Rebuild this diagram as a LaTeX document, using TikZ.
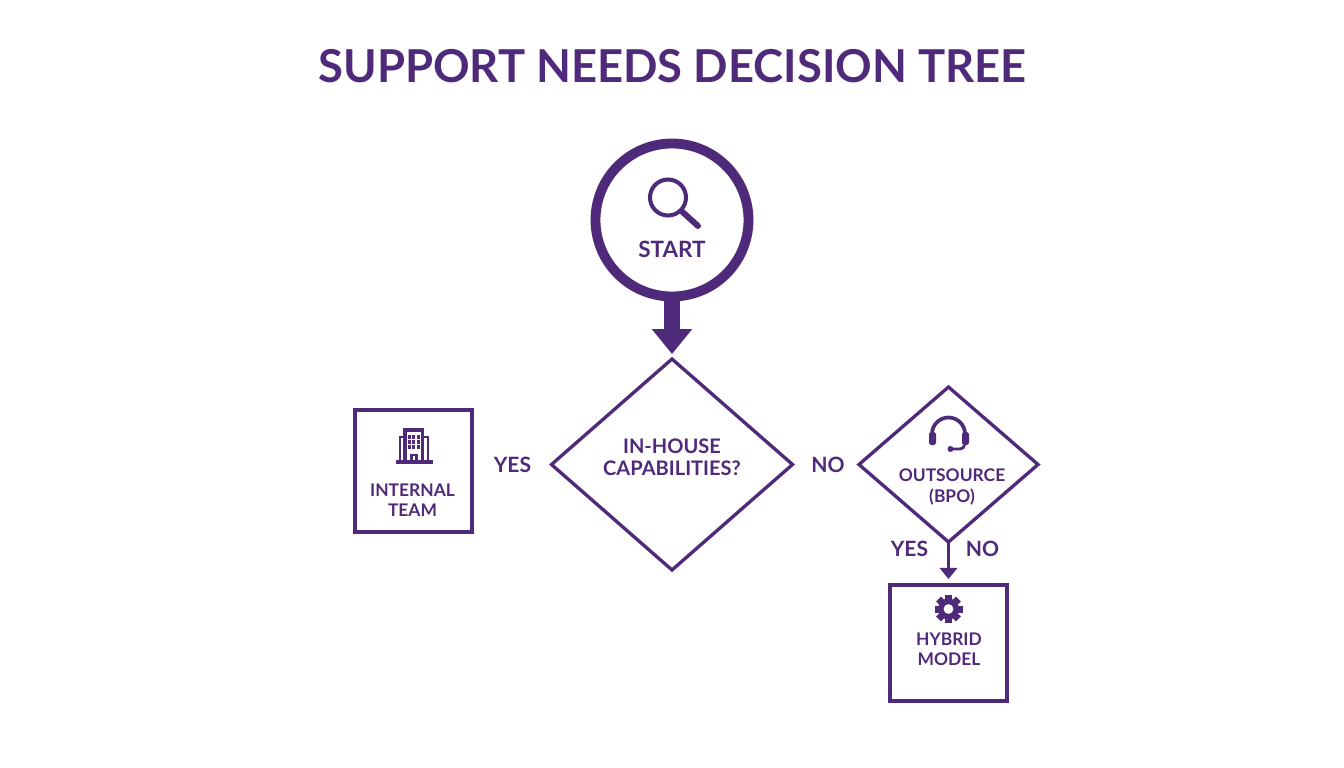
\documentclass[tikz,border=0pt]{standalone}
\usepackage{xcolor}
\usepackage{fontspec}
\setmainfont{Lato}
\usetikzlibrary{arrows.meta,shapes.geometric}
\definecolor{supportpurple}{HTML}{4F2A7A}
\tikzset{
	lbl/.style={text=supportpurple,font=\bfseries\fontsize{6}{6.2}\selectfont,align=center,inner sep=0pt},
	smalllbl/.style={lbl,font=\bfseries\fontsize{4.95}{5.6}\selectfont},
	decision/.style={draw=supportpurple,shape=diamond,line width=0.95pt,inner sep=0pt,outer sep=0pt},
	result/.style={draw=supportpurple,line width=1.05pt,inner sep=0pt,outer sep=0pt},
	icon/.style={draw=supportpurple,line width=0.9pt},
}
\begin{document}
\begin{tikzpicture}
		\useasboundingbox(0,0)rectangle(13.44,-7.68);
		\node[text=supportpurple,font=\bfseries\fontsize{12.9}{13}\selectfont,inner sep=0pt](title)at(6.725,-0.66){SUPPORT NEEDS DECISION TREE};

		\node[draw=supportpurple,circle,line width=2.8pt,minimum size=1.53cm,inner sep=0pt,outer sep=0pt](start)at(6.72,-2.2){};
		\node[decision,minimum width=2.41cm,minimum height=2.11cm](inhouse)at(6.72,-4.645){};
		\node[decision,minimum width=1.79cm,minimum height=1.55cm](outsource)at(9.485,-4.645){};
		\node[result,minimum width=1.17cm,minimum height=1.22cm](internal)at(4.135,-4.71){};
		\node[result,minimum width=1.17cm,minimum height=1.16cm](hybrid)at(9.485,-6.43){};

		\node[lbl,font=\bfseries\fontsize{6.4}{6.4}\selectfont](startlbl)at(6.72,-2.49){START};
		\node[lbl,font=\bfseries\fontsize{5.7}{6.2}\selectfont](inhouselbl)at(6.72,-4.57){IN-HOUSE\\CAPABILITIES?};
		\node[smalllbl](internallbl)at(4.125,-5){INTERNAL\\TEAM};
		\node[smalllbl,font=\bfseries\fontsize{4.95}{6}\selectfont](outsourcelbl)at(9.52,-4.87){OUTSOURCE\\(BPO)};
		\node[smalllbl](hybridlbl)at(9.49,-6.495){HYBRID\\MODEL};
		\node[lbl](yesleft)at(5.125,-4.65){YES};
		\node[lbl](noright)at(8.28,-4.65){NO};
		\node[lbl](yesdown)at(9.095,-5.49){YES};
		\node[lbl](nodown)at(9.825,-5.49){NO};

		\draw[-{Triangle[width=11pt,length=7.1pt]},line width=4.5pt,color=supportpurple,shorten >=1.4pt](start)--(inhouse);
		\draw[-{Triangle[width=5pt,length=3.2pt]},line width=1.1pt,color=supportpurple,shorten >=1.7pt](outsource)--(hybrid);

		\draw[icon,line width=1.15pt](6.68,-1.975)circle(0.18);
		\draw[icon,line width=1.7pt,line cap=round](6.82,-2.115)--(6.98,-2.26);

		\draw[icon,line width=0.8pt](4.0,-4.62)--(4.0,-4.37)--(4.04,-4.37);
		\draw[icon,line width=0.8pt](4.23,-4.37)--(4.28,-4.37)--(4.28,-4.62);
		\draw[icon,line width=0.9pt](4.05,-4.62)--(4.05,-4.3)--(4.225,-4.3)--(4.225,-4.62);
		\draw[icon,line width=0.9pt](3.96,-4.62)--(4.33,-4.62);
		\draw[icon,line width=0.7pt](4.115,-4.62)--(4.115,-4.55)--(4.165,-4.55)--(4.165,-4.62);
		\foreach \wx in {4.095,4.138,4.181}
			\foreach \wy in {-4.37,-4.42,-4.47}
				\fill[supportpurple](\wx-0.016,\wy-0.016)rectangle(\wx+0.016,\wy+0.016);

		\draw[icon,line width=1.05pt](9.32,-4.34)arc(180:0:0.165);
		\fill[supportpurple,rounded corners=0.5pt](9.29,-4.32)rectangle(9.36,-4.45);
		\fill[supportpurple,rounded corners=0.5pt](9.62,-4.32)rectangle(9.69,-4.45);
		\draw[icon,line width=0.8pt](9.645,-4.45)..controls(9.64,-4.5)and(9.58,-4.49)..(9.52,-4.49);
		\fill[supportpurple](9.505,-4.49)circle(0.03);

		\fill[supportpurple,even odd rule](9.485,-6.09)circle(0.105)(9.485,-6.09)circle(0.05);
		\foreach \ang in {0,45,...,315}
			\fill[supportpurple,rotate around={\ang:(9.485,-6.09)}](9.45,-6)rectangle(9.52,-5.95);
		\end{tikzpicture}
\end{document}
